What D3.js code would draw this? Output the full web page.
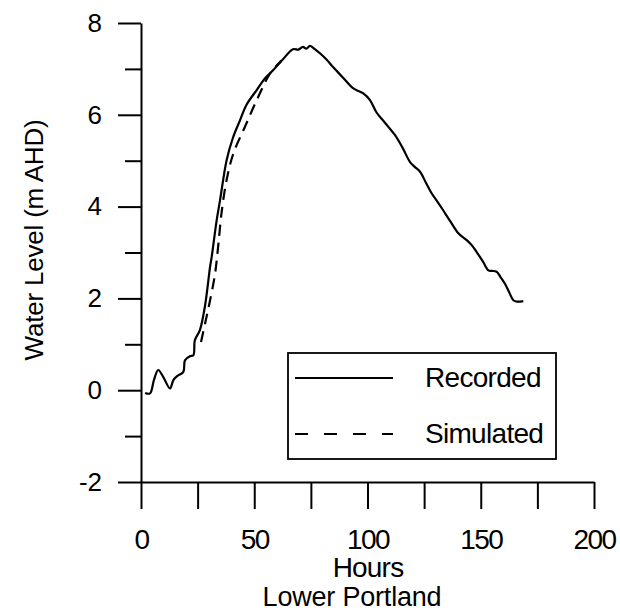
<!DOCTYPE html>
<html>
<head>
<meta charset="utf-8">
<script src="https://cdn.jsdelivr.net/npm/d3@7"></script>
<style>
  html, body { margin: 0; padding: 0; background: #fff; }
  svg { display: block; }
  text { font-family: "Liberation Sans", Arial, sans-serif; fill: #000; }
</style>
</head>
<body>
<svg id="chart" width="620" height="614"></svg>
<script>
// ---- data ----
const recordedHours = [1.8, 4.0, 5.7, 7.6, 9.8, 12.8, 14.3, 15.8, 18.7, 19.4, 21.6, 23.1, 23.8, 26.0, 28.3, 30.5, 31.2, 33.4, 34.9, 37.8, 40.6, 43.7, 46.6, 51.1, 54.5, 58.3, 62.5, 67.1, 69.5, 71.5, 73.0, 74.6, 77.0, 79.0, 82.0, 84.8, 89.0, 93.6, 96.0, 98.0, 101.1, 104.0, 106.8, 109.5, 112.1, 115.5, 118.8, 121.0, 123.2, 125.8, 128.3, 131.0, 133.4, 136.8, 140.1, 143.8, 146.0, 148.2, 151.0, 153.4, 155.0, 157.0, 158.8, 160.7, 162.5, 164.4, 166.0, 168.8];
const recordedLevel = [-0.06, -0.07, 0.22, 0.44, 0.29, 0.04, 0.22, 0.30, 0.40, 0.65, 0.74, 0.76, 1.09, 1.31, 1.85, 2.69, 2.90, 3.70, 4.14, 5.01, 5.50, 5.88, 6.22, 6.54, 6.78, 6.97, 7.20, 7.43, 7.42, 7.48, 7.44, 7.50, 7.42, 7.34, 7.20, 7.04, 6.82, 6.58, 6.52, 6.47, 6.32, 6.05, 5.88, 5.72, 5.56, 5.28, 4.97, 4.86, 4.76, 4.52, 4.29, 4.10, 3.92, 3.66, 3.42, 3.27, 3.16, 3.01, 2.80, 2.61, 2.60, 2.58, 2.46, 2.32, 2.14, 1.96, 1.93, 1.94];
const simulatedHours = [26.5, 28.5, 30.5, 32.7, 34.1, 35.6, 37.8, 40.8, 45.9, 51.1, 57.0, 62.0];
const simulatedLevel = [1.05, 1.50, 1.96, 2.54, 3.15, 3.88, 4.58, 5.16, 5.74, 6.32, 6.90, 7.18];
const xTicks = [0, 25, 50, 75, 100, 125, 150, 175, 200];
const xTickLabels = ["0", "", "50", "", "100", "", "150", "", "200"];
const yMajorTicks = [-2, 0, 2, 4, 6, 8];
const yMajorLabels = ["-2", "0", "2", "4", "6", "8"];
const yMinorTicks = [-1, 1, 3, 5, 7];
const seriesNames = ["Recorded", "Simulated"];

// ---- drawing ----
const svg = d3.select("#chart");
const x = d3.scaleLinear().domain([0, 200]).range([141, 594]);
const y = d3.scaleLinear().domain([-2, 8]).range([482, 23]);

const AX_W = 2;
const FONT = "Liberation Sans, Arial, sans-serif";

// y axis minor ticks
svg.append("g")
  .attr("transform", `translate(${x(0)},0)`)
  .call(d3.axisLeft(y).tickValues(yMinorTicks).tickSize(16).tickSizeOuter(0).tickFormat(""))
  .call(g => g.select(".domain").remove())
  .call(g => g.selectAll("line").attr("stroke", "#000").attr("stroke-width", AX_W));

// y axis major ticks with labels
const yLabel = d3.scaleOrdinal().domain(yMajorTicks).range(yMajorLabels);
svg.append("g")
  .attr("transform", `translate(${x(0)},0)`)
  .call(d3.axisLeft(y).tickValues(yMajorTicks).tickSize(23).tickSizeOuter(0).tickPadding(16).tickFormat(d => yLabel(d)))
  .call(g => g.select(".domain").attr("stroke", "#000").attr("stroke-width", AX_W))
  .call(g => g.selectAll("line").attr("stroke", "#000").attr("stroke-width", AX_W))
  .call(g => g.selectAll("text").attr("font-size", 26).attr("font-family", FONT).attr("fill", "#000"));

// x axis
const xLabel = d3.scaleOrdinal().domain(xTicks).range(xTickLabels);
svg.append("g")
  .attr("transform", `translate(0,${y(-2)})`)
  .call(d3.axisBottom(x).tickValues(xTicks).tickSize(27).tickSizeOuter(0).tickPadding(20).tickFormat(d => xLabel(d)))
  .call(g => g.select(".domain").attr("stroke", "#000").attr("stroke-width", AX_W))
  .call(g => g.selectAll("line").attr("stroke", "#000").attr("stroke-width", AX_W))
  .call(g => g.selectAll("text").attr("font-size", 28).attr("letter-spacing", "-1.5px").attr("font-family", FONT).attr("fill", "#000"));

// axis titles
svg.append("text")
  .attr("x", 368)
  .attr("y", 577)
  .attr("text-anchor", "middle")
  .attr("font-size", 28)
  .attr("letter-spacing", "-0.8px")
  .text("Hours");
svg.append("text")
  .attr("x", 352)
  .attr("y", 606)
  .attr("text-anchor", "middle")
  .attr("font-size", 27)
  .attr("letter-spacing", "-0.2px")
  .text("Lower Portland");
svg.append("text")
  .attr("transform", "translate(43,240) rotate(-90)")
  .attr("text-anchor", "middle")
  .attr("font-size", 26)
  .attr("letter-spacing", "-0.2px")
  .text("Water Level (m AHD)");

// lines
const line = d3.line().x(d => x(d[0])).y(d => y(d[1])).curve(d3.curveCatmullRom.alpha(0.5));
const recorded = recordedHours.map((h, i) => [h, recordedLevel[i]]);
const simulated = simulatedHours.map((h, i) => [h, simulatedLevel[i]]);

svg.append("path").datum(recorded)
  .attr("d", line).attr("fill", "none").attr("stroke", "#000").attr("stroke-width", 2.2)
  .attr("stroke-linejoin", "round");
svg.append("path").datum(simulated)
  .attr("d", line).attr("fill", "none").attr("stroke", "#000").attr("stroke-width", 2.2)
  .attr("stroke-dasharray", "11,7");

// legend
const lg = svg.append("g");
lg.append("rect").attr("x", 288).attr("y", 353).attr("width", 268).attr("height", 106)
  .attr("fill", "#fff").attr("stroke", "#000").attr("stroke-width", 1.8);
const legendRows = [{ name: seriesNames[0], dash: null, yy: 378 }, { name: seriesNames[1], dash: "13,16", yy: 434 }];
legendRows.forEach(r => {
  lg.append("line").attr("x1", 295).attr("x2", 393).attr("y1", r.yy).attr("y2", r.yy)
    .attr("stroke", "#000").attr("stroke-width", 2).attr("stroke-dasharray", r.dash);
  lg.append("text").attr("x", 425).attr("y", r.yy + 9).attr("font-size", 28)
    .attr("letter-spacing", "-0.7px").text(r.name);
});
</script>
</body>
</html>
